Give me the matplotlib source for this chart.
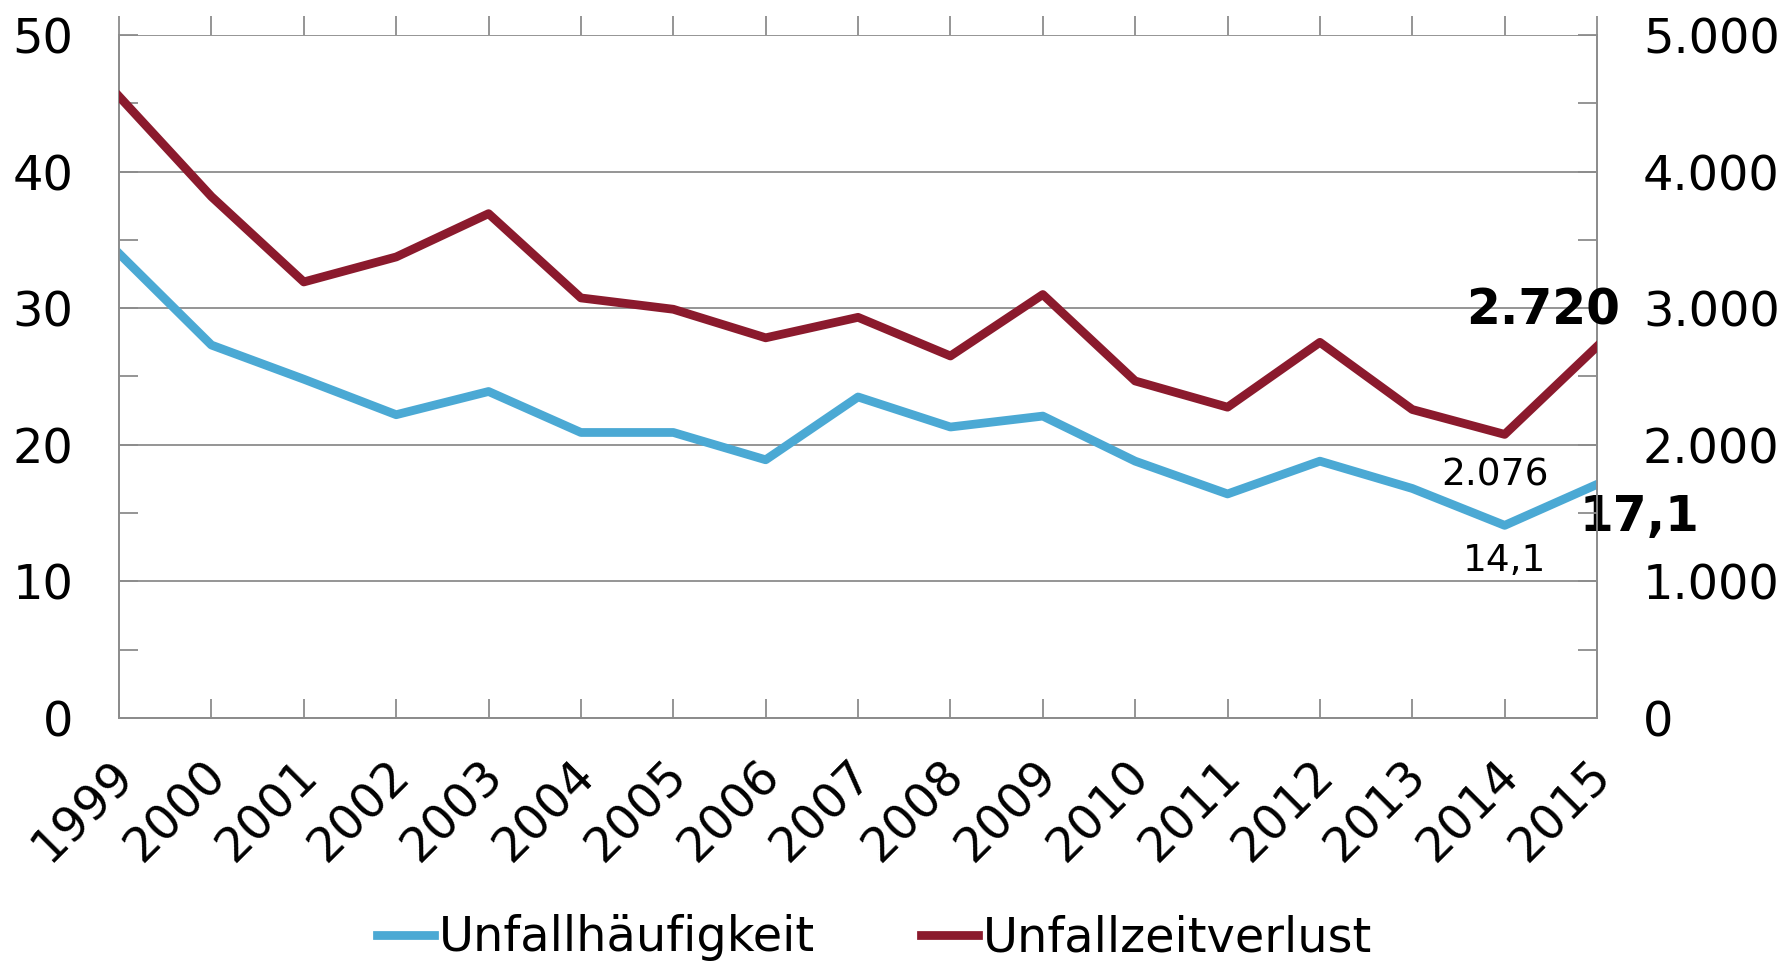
import matplotlib
matplotlib.use("Agg")
import matplotlib.pyplot as plt
import matplotlib.transforms as mtransforms
from matplotlib.ticker import FuncFormatter, MultipleLocator

years = list(range(1999, 2016))
haeufigkeit = [34.0, 27.3, 24.8, 22.2, 23.9, 20.9, 20.9, 18.9, 23.5, 21.3,
               22.1, 18.8, 16.4, 18.8, 16.8, 14.1, 17.1]
zeitverlust = [4550, 3817, 3192, 3375, 3692, 3075, 2992, 2783, 2933, 2650,
               3100, 2467, 2275, 2750, 2258, 2076, 2720]
labels = ["Unfallhäufigkeit", "Unfallzeitverlust"]

blue = "#4BA9D4"
red = "#8B1A2D"
grey = "#8C8C8C"

plt.rcParams['font.family'] = ['DejaVu Sans']

fig = plt.figure(figsize=(17.85, 9.61), dpi=100)
ax = fig.add_axes([0.0667, 0.2529, 0.828, 0.7107])
ax2 = ax.twinx()

l1, = ax.plot(years, haeufigkeit, color=blue, lw=6.3, label=labels[0], zorder=3)
l2, = ax2.plot(years, zeitverlust, color=red, lw=6.3, label=labels[1], zorder=3)

ax.set_xlim(1999, 2015)
ax.set_ylim(0, 50)
ax2.set_ylim(0, 5000)
ax.yaxis.set_major_locator(MultipleLocator(10))
ax.yaxis.set_minor_locator(MultipleLocator(5))
ax2.yaxis.set_major_locator(MultipleLocator(1000))
ax2.yaxis.set_minor_locator(MultipleLocator(500))
ax.set_xticks(years)
ax.grid(axis='y', color=grey, lw=1.3, zorder=0)

ax2.yaxis.set_major_formatter(FuncFormatter(lambda v, p: f"{int(v):,}".replace(",", ".")))

for a in (ax, ax2):
    for s in a.spines.values():
        s.set_color(grey)
        s.set_linewidth(1.3)
    a.spines['top'].set_visible(False)

fs = 34.5
ax.tick_params(axis='y', which='both', direction='in', color=grey, width=1.3,
               labelsize=fs, pad=33, length=14)
ax2.tick_params(axis='y', which='both', direction='in', color=grey, width=1.3,
                labelsize=fs, pad=33, length=14)
ax.tick_params(axis='x', direction='in', color=grey, width=1.3, length=14,
               labelsize=fs, pad=24, top=True)
shift = mtransforms.ScaledTranslation(-10 / 100, 0, fig.dpi_scale_trans)
for lab in ax.get_xticklabels():
    lab.set_rotation(45)
    lab.set_ha('right')
    lab.set_va('top')
    lab.set_rotation_mode('anchor')
    lab.set_transform(lab.get_transform() + shift)
for t in ax.xaxis.get_major_ticks():
    t.tick2line.set_marker(2)  # outward at the top

ax.patch.set_visible(False)

# annotations
ax2.annotate(f"{zeitverlust[-1]:,}".replace(",", "."), (years[-1], zeitverlust[-1]),
             xytext=(-54, 36), textcoords='offset pixels', ha='center', va='center',
             fontsize=35, fontweight='bold')
ax.annotate(f"{haeufigkeit[-1]}".replace(".", ","), (years[-1], haeufigkeit[-1]),
            xytext=(42, -33), textcoords='offset pixels', ha='center', va='center',
            fontsize=35, fontweight='bold')
ax2.annotate(f"{zeitverlust[-2]:,}".replace(",", "."), (years[-2], zeitverlust[-2]),
             xytext=(-10, -41), textcoords='offset pixels', ha='center', va='center',
             fontsize=27)
ax.annotate(f"{haeufigkeit[-2]}".replace(".", ","), (years[-2], haeufigkeit[-2]),
            xytext=(0, -36), textcoords='offset pixels', ha='center', va='center',
            fontsize=27)

fig.legend(handles=[l1, l2], loc='center', bbox_to_anchor=(0.49, 0.024),
           ncol=2, frameon=False, fontsize=fs, handlelength=1.2,
           handletextpad=0.1, columnspacing=2.2)

fig.savefig("out.png", dpi=100)
